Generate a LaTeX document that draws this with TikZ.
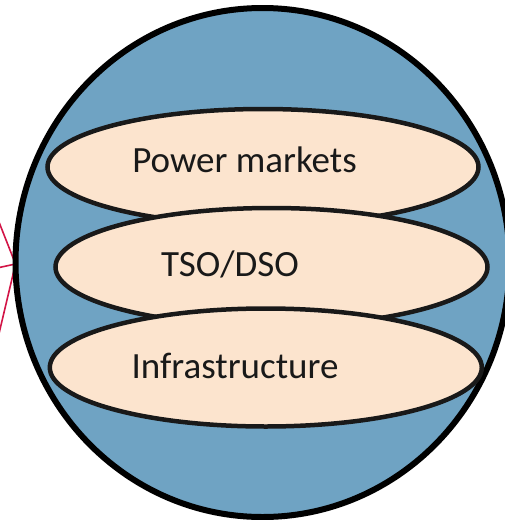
\documentclass[tikz,border=0pt]{standalone}
\usepackage{fontspec}
\setmainfont{Carlito}
\usetikzlibrary{shapes.geometric, positioning}
\definecolor{sphereblue}{RGB}{111,163,195}
\definecolor{layerpeach}{RGB}{252,228,206}
\definecolor{linkred}{RGB}{210,20,70}

\begin{document}
\begin{tikzpicture}[x=1pt,y=-1pt]
    \tikzstyle{outer}=[ellipse, draw=black, line width=6pt, fill=sphereblue, inner sep=0pt]
    \tikzstyle{layer}=[ellipse, draw=black!90, line width=4.5pt, fill=layerpeach, minimum width=432pt, minimum height=118pt, inner sep=0pt]
    \tikzstyle{annot}=[anchor=base, text=black!90, font=\fontsize{37}{44}\selectfont, inner sep=0pt]
    \useasboundingbox (0,0) rectangle (504,520);

    \coordinate (hub) at (15.5,264);
    \foreach \i/\y in {0/217,1/268,2/342}{
        \coordinate (L-\i) at (-3,\y);
        \draw[linkred, line width=1.6pt] (L-\i) -- (hub);
    }

    \node[outer, minimum width=494pt, minimum height=509pt] (sphere) at (262.5,262.5) {};

    \node[layer, minimum width=431pt, minimum height=116pt] (M) at (263,167) {};
    \node[layer] (T) at (271.5,267) {};
    \node[layer] (I) at (265.8,367.5) {};

    \node[annot] (M-txt) at (244.5,172) {Power markets};
    \node[annot] (T-txt) at (230,276.7) {TSO/DSO};
    \node[annot] (I-txt) at (235,378) {Infrastructure};
\end{tikzpicture}
\end{document}
